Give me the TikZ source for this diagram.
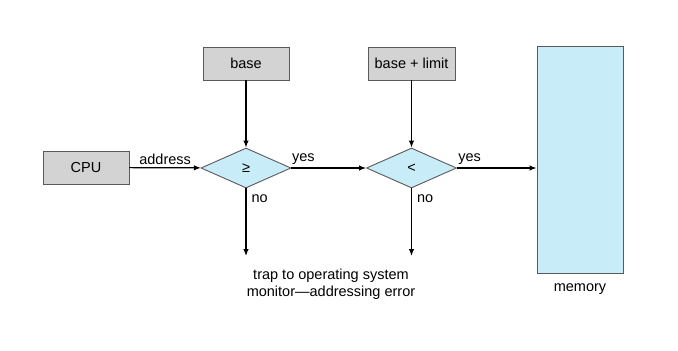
\documentclass[tikz,border=0pt]{standalone}
\usepackage{fontspec}
\setmainfont{Liberation Sans}
\usepackage{xcolor}
\usepackage{tikz}
\usetikzlibrary{shapes.geometric,arrows.meta,positioning}
\definecolor{regfill}{RGB}{211, 211, 211}
\definecolor{cmpfill}{RGB}{200, 236, 248}
\definecolor{edgegray}{RGB}{90, 90, 90}

\begin{document}
\begin{tikzpicture}[
    x=1pt, y=-1pt,
    font=\fontsize{14.5}{17.5}\selectfont,
    regbox/.style={
        rectangle, draw=edgegray, line width=0.9pt, fill=regfill,
        minimum width=86pt, minimum height=33pt, inner sep=0pt
    },
    cmpbox/.style={
        diamond, draw=edgegray, line width=0.9pt, fill=cmpfill,
        aspect=2.25, minimum width=90pt, minimum height=40pt, inner sep=0pt
    },
    memblock/.style={
        rectangle, draw=edgegray, line width=0.9pt, fill=cmpfill,
        minimum width=86pt, minimum height=227pt, inner sep=0pt
    },
    flow/.style={draw=black, line width=1.2pt, -{Latex[length=7pt,width=5.5pt]}},
    flowlabel/.style={inner sep=1pt}
]
    \useasboundingbox (0,0) rectangle (678,351);

    \node[regbox] (cpu) at (86,167.5) {CPU};
    \node[regbox] (base) at (246,63.5) {base};
    \node[regbox, minimum width=87pt] (limit) at (411.5,63.5) {base + limit};
    \node[cmpbox] (geq) at (246,168) {≥};
    \node[cmpbox] (less) at (411.5,168) {<};
    \node[memblock] (memory) at (580,159.5) {};
    \node[below=7pt of memory] (memlabel) {memory};

    \coordinate (trapA) at (246,256);
    \coordinate (trapB) at (411.5,256);
    \node[align=center] (trap) at (331,284) {trap to operating system\\monitor—addressing error};

    \draw[flow] (cpu) -- node[flowlabel, above, yshift=2pt] {address} (geq);
    \draw[flow] (base) -- (geq);
    \draw[flow] (limit) -- (less);
    \draw[flow] (geq) -- node[flowlabel, above, pos=0.16, yshift=2pt] {yes} (less);
    \draw[flow] (less) -- node[flowlabel, above, pos=0.16, yshift=2pt] {yes} (less -| memory.west);
    \draw[flow] (geq.south) -- node[flowlabel, right, pos=0.15, xshift=4pt] {no} (trapA);
    \draw[flow] (less.south) -- node[flowlabel, right, pos=0.15, xshift=4pt] {no} (trapB);
\end{tikzpicture}
\end{document}
